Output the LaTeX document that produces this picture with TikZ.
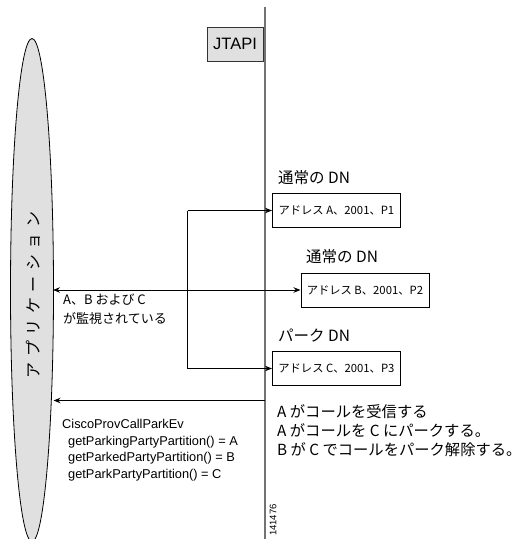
\documentclass[tikz,border=0pt]{standalone}
\usepackage{fontspec}
\setmainfont{Liberation Sans}
\newfontfamily\jp{Noto Sans CJK JP}
\usetikzlibrary{arrows.meta,shapes.geometric}
\tikzset{
  conn/.style={draw=black, line width=0.9pt, -{Stealth[length=7pt,width=5.5pt]}},
  addr/.style={draw=black, line width=0.8pt, fill=white, minimum width=128pt, minimum height=34pt, inner sep=0pt, font=\jp\fontsize{11.3}{12}\selectfont},
  lbl/.style={anchor=west, inner sep=0pt, font=\jp\fontsize{15.5}{17}\selectfont},
}
\newcommand{\cc}[1]{\makebox[21.5pt]{#1}}
\begin{document}
\begin{tikzpicture}[x=1pt,y=-1pt]
\useasboundingbox (0,0) rectangle (527,539);
% ellipse
\begin{scope}
\clip (0,0) rectangle (527,539);
\node[draw=black, line width=0.8pt, fill=black!12, ellipse, minimum width=43pt, minimum height=503pt, inner sep=0pt] (app) at (32,290) {};
\end{scope}
\node[rotate=90, inner sep=0pt, font=\jp\fontsize{16}{18}\selectfont] (apptxt) at (33,295) {\cc{ア}\cc{プ}\cc{リ}\cc{ケ}\cc{ー}\cc{シ}\cc{ョ}\cc{ン}};
% JTAPI line
\coordinate (ltop) at (265,7);
\coordinate (lbot) at (265,539);
\draw[black!55, line width=1.2pt] (ltop) -- (lbot);
\node[draw=black!80, line width=0.8pt, fill=black!12, minimum width=56pt, minimum height=34pt, inner sep=0pt, font=\fontsize{16.5}{18}\selectfont] (jtapi) at (235,44) {JTAPI};
% labels and boxes
\node[lbl] (la) at (278,178) {通常の DN};
\node[addr, anchor=west] (ba) at (272,210.5) {アドレス A、2001、P1};
\node[lbl] (lb) at (306,257) {通常の DN};
\node[addr, anchor=west] (bb) at (300.5,290) {アドレス B、2001、P2};
\node[lbl] (lc) at (278,335.5) {パーク DN};
\node[addr, anchor=west] (bc) at (272,368.5) {アドレス C、2001、P3};
% connectors
\coordinate (v1) at (187.5,210.5);
\coordinate (v2) at (187.5,368.5);
\draw[conn] (v1) -- (ba.west);
\draw[conn] (v2) -- (bc.west);
\draw[black, line width=0.9pt] (v1) -- (v2);
\coordinate (appr1) at (53,290);
\draw[conn, {Stealth[length=7pt,width=5.5pt]}-{Stealth[length=7pt,width=5.5pt]}] (appr1) -- (bb.west);
\coordinate (appr2) at (53.5,400.5);
\coordinate (lmid) at (265,400.5);
\draw[conn] (lmid) -- (appr2);
% texts
\node[anchor=north west, inner sep=0pt, align=left, font=\jp\fontsize{13}{19}\selectfont] (mon) at (63,294) {A、B および C\\が監視されている};
\node[anchor=north west, inner sep=0pt, align=left, font=\fontsize{12.8}{16.7}\selectfont] (ev) at (62,419) {CiscoProvCallParkEv\\\hspace*{6pt}getParkingPartyPartition() = A\\\hspace*{6pt}getParkedPartyPartition() = B\\\hspace*{6pt}getParkPartyPartition() = C};
\node[anchor=north west, inner sep=0pt, align=left, font=\jp\fontsize{15.3}{19}\selectfont] (steps) at (277,404) {A がコールを受信する\\A がコールを C にパークする。\\B が C でコールをパーク解除する。};
\node[rotate=90, inner sep=0pt, font=\fontsize{9.5}{10}\selectfont] (fig) at (273,520) {141476};
\end{tikzpicture}
\end{document}
